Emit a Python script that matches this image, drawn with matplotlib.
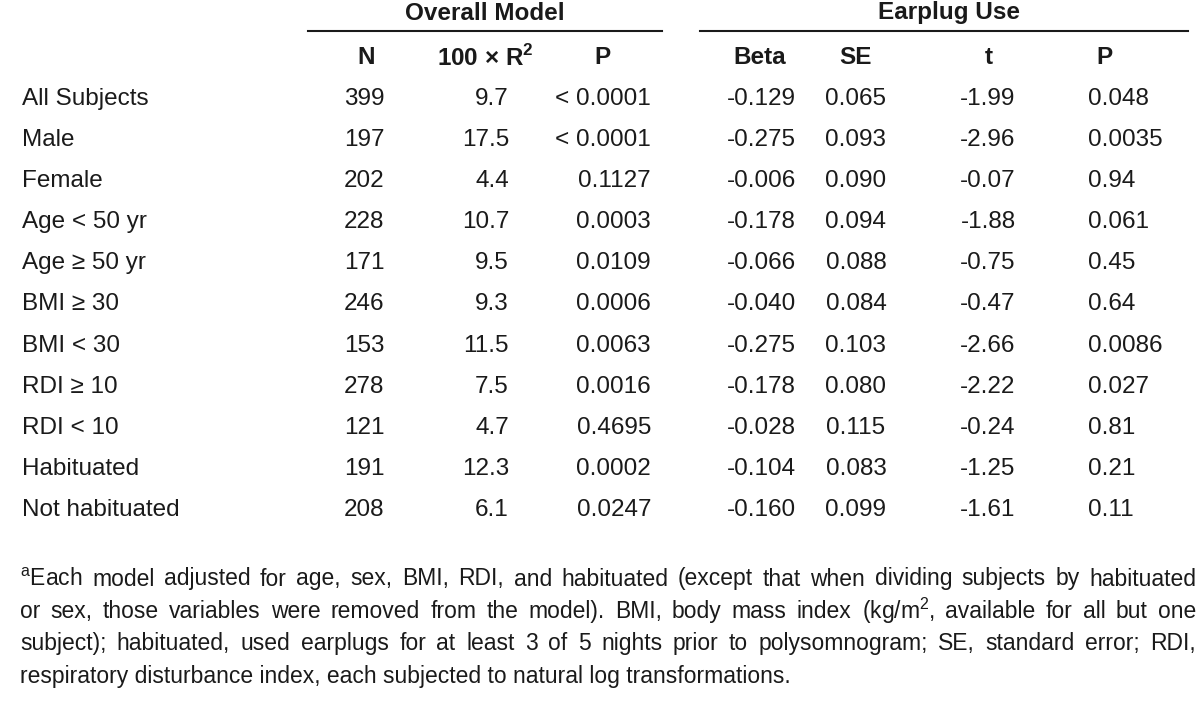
import matplotlib.pyplot as plt

plt.rcParams['font.family'] = ['Liberation Sans', 'DejaVu Sans']

groups = ["All Subjects", "Male", "Female", "Age < 50 yr", "Age ≥ 50 yr", "BMI ≥ 30",
          "BMI < 30", "RDI ≥ 10", "RDI < 10", "Habituated", "Not habituated"]
n = ["399", "197", "202", "228", "171", "246", "153", "278", "121", "191", "208"]
r2 = ["9.7", "17.5", "4.4", "10.7", "9.5", "9.3", "11.5", "7.5", "4.7", "12.3", "6.1"]
p_model = ["< 0.0001", "< 0.0001", "0.1127", "0.0003", "0.0109", "0.0006", "0.0063",
           "0.0016", "0.4695", "0.0002", "0.0247"]
beta = ["-0.129", "-0.275", "-0.006", "-0.178", "-0.066", "-0.040", "-0.275", "-0.178",
        "-0.028", "-0.104", "-0.160"]
se = ["0.065", "0.093", "0.090", "0.094", "0.088", "0.084", "0.103", "0.080", "0.115",
      "0.083", "0.099"]
t = ["-1.99", "-2.96", "-0.07", "-1.88", "-0.75", "-0.47", "-2.66", "-2.22", "-0.24",
     "-1.25", "-1.61"]
p_ear = ["0.048", "0.0035", "0.94", "0.061", "0.45", "0.64", "0.0086", "0.027", "0.81",
         "0.21", "0.11"]
col_heads = ["N", r"100 × R$^{\mathregular{2}}$", "P", "Beta", "SE", "t", "P"]
footnote = [
    r"$^{\mathregular{a}}$Each model adjusted for age, sex, BMI, RDI, and habituated (except that when dividing subjects by habituated",
    r"or sex, those variables were removed from the model). BMI, body mass index (kg/m$^{\mathregular{2}}$, available for all but one",
    "subject); habituated, used earplugs for at least 3 of 5 nights prior to polysomnogram; SE, standard error; RDI,",
    "respiratory disturbance index, each subjected to natural log transformations.",
]

fig = plt.figure(figsize=(12, 7.13), dpi=100)
ax = fig.add_axes([0, 0, 1, 1])
ax.set_xlim(0, 1200)
ax.set_ylim(713, 0)
ax.axis('off')

fs = 17.5
col = '#1a1a1a'

# group headers
ax.text(485, 13, "Overall Model", ha='center', va='center', fontsize=fs, fontweight='bold', color=col)
ax.text(949, 13, "Earplug Use", ha='center', va='center', fontsize=fs, fontweight='bold', color=col)
ax.plot([308, 662], [31, 31], color=col, lw=1.5)
ax.plot([700, 1188], [31, 31], color=col, lw=1.5)

head_x = [366, 485, 602, 760, 856, 989, 1104]
for x, h in zip(head_x, col_heads):
    ax.text(x, 58, h, ha='center', va='center', fontsize=fs, fontweight='bold', color=col)

cols = [(n, 364, 'center'), (r2, 509, 'right'), (p_model, 651, 'right'),
        (beta, 761, 'center'), (se, 856, 'center'), (t, 988, 'center'), (p_ear, 1088, 'left')]
for i, g in enumerate(groups):
    y = 99 + i * 41.1
    ax.text(22, y, g, ha='left', va='center', fontsize=fs, color=col)
    for vals, x, al in cols:
        ax.text(x, y, vals[i], ha=al, va='center', fontsize=fs, color=col)

# footnote, justified except the last line
r = fig.canvas.get_renderer()
x0, x1 = 20, 1196
for i, line in enumerate(footnote):
    y = 579 + i * 32.4
    if i == len(footnote) - 1:
        ax.text(x0, y, line, ha='left', va='center', fontsize=16.5, color=col)
        continue
    words = line.split(' ')
    items = [ax.text(0, y, w, ha='left', va='center', fontsize=16.5, color=col) for w in words]
    widths = [it.get_window_extent(r).width for it in items]
    gap = (x1 - x0 - sum(widths)) / (len(words) - 1)
    x = x0
    for it, w in zip(items, widths):
        it.set_x(x)
        x += w + gap

fig.savefig('out.png', dpi=100)
